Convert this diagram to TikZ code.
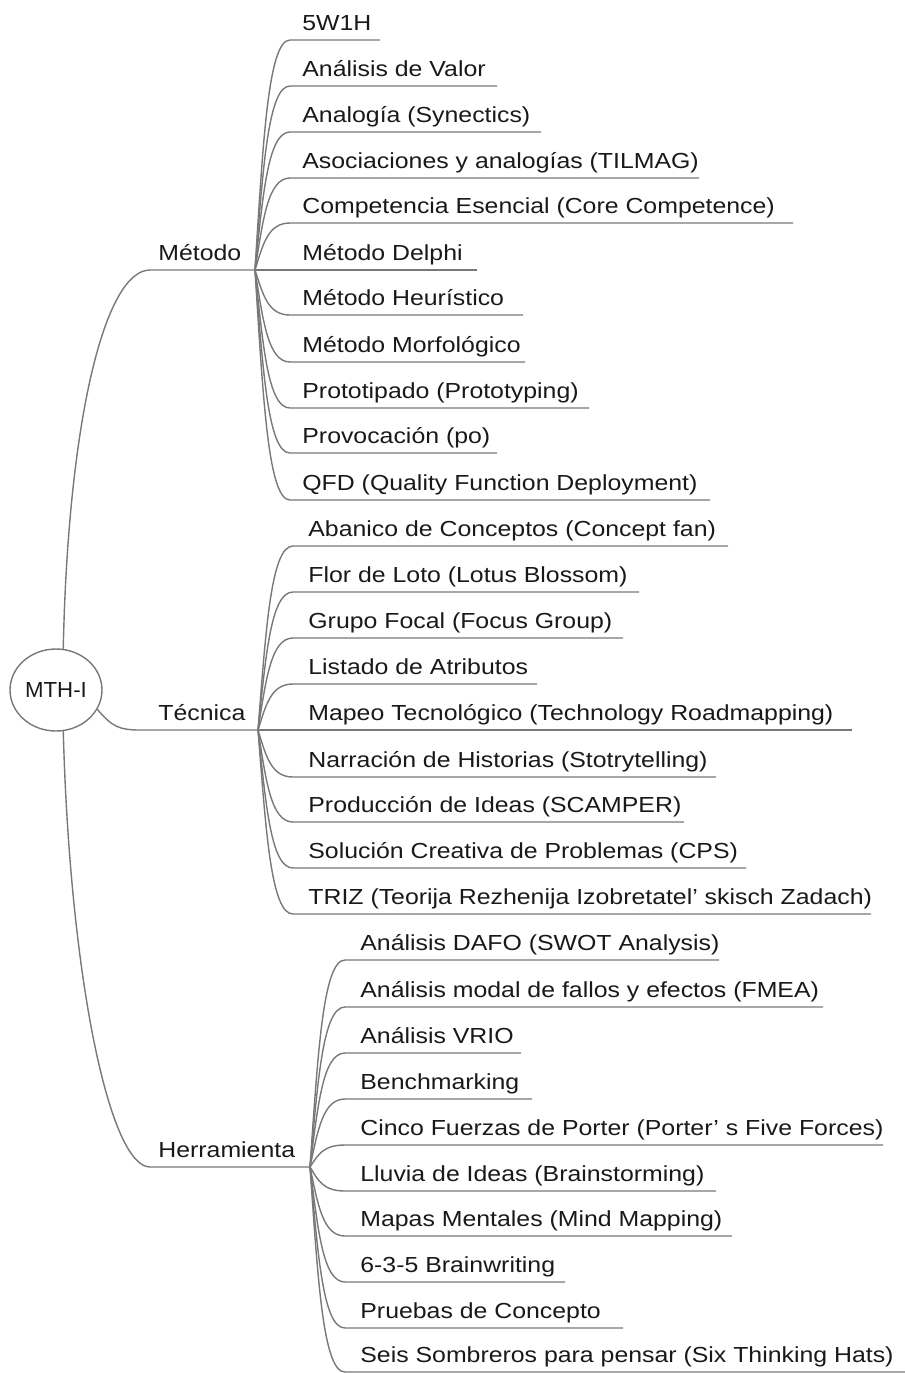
\documentclass[tikz,border=0pt]{standalone}
\usepackage{fontspec}
\setmainfont{Liberation Sans}
\usepackage{graphicx}
\usetikzlibrary{shapes.geometric,calc}
\definecolor{linegray}{RGB}{120,120,120}
\definecolor{txtgray}{RGB}{25,25,25}
\newcommand\lbl[1]{\scalebox{1.14}[1]{#1}}
\begin{document}
\begin{tikzpicture}[x=0.5pt,y=-0.5pt,
  conn/.style={draw=linegray,line width=0.7pt},
  leaf/.style={inner sep=0pt,anchor=base west,text=txtgray,font=\fontsize{10.9}{13}\selectfont},
  rootnode/.style={ellipse,draw=linegray,line width=0.7pt,minimum width=46pt,minimum height=41pt,inner sep=0pt,text=txtgray,font=\fontsize{10.9}{13}\selectfont}]
\useasboundingbox (0,0) rectangle (905,1373);

% root
\node[rootnode] (root) at (56,690) {\scalebox{1.02}[1]{MTH-I}};

% hubs
\coordinate (hm) at (255,270);
\coordinate (ht) at (258,730);
\coordinate (hh) at (310,1167);

% branch labels
\node[leaf] (metodo) at (158,260.5) {\lbl{Método}};
\node[leaf] (tecnica) at (158,720.5) {\lbl{Técnica}};
\node[leaf] (herr) at (158,1157.5) {\lbl{Herramienta}};

% root connectors
\draw[conn] (root.80) .. controls (68,420) and (105,270) .. (150,270) -- (hm);
\draw[conn] (root.-25) .. controls (112,727) and (120,730) .. (140,730) -- (ht);
\draw[conn] (root.-80) .. controls (70,980) and (110,1167) .. (150,1167) -- (hh);

% Método children
\foreach \yy/\ee/\lab [count=\i] in {
  40/380/5W1H,
  86/497/Análisis de Valor,
  132/541/Analogía (Synectics),
  178/699/Asociaciones y analogías (TILMAG),
  223/793/Competencia Esencial (Core Competence),
  270/477/Método Delphi,
  315/523/Método Heurístico,
  362/525/Método Morfológico,
  408/589/Prototipado (Prototyping),
  453/497/Provocación (po),
  500/710/QFD (Quality Function Deployment)}{
  \node[leaf] (m\i) at (302,{\yy-9.5}) {\lbl{\lab}};
  \coordinate (m\i e) at (\ee,\yy);
  \draw[conn] (hm) .. controls (263,{270+0.55*(\yy-270)}) and (268,\yy) .. (290,\yy) -- (m\i e);
}

% Técnica children
\foreach \yy/\ee/\lab [count=\i] in {
  546/728/Abanico de Conceptos (Concept fan),
  592/639/Flor de Loto (Lotus Blossom),
  638/623/Grupo Focal (Focus Group),
  684/537/Listado de Atributos,
  730/852/Mapeo Tecnológico (Technology Roadmapping),
  777/716/Narración de Historias (Stotrytelling),
  822/684/Producción de Ideas (SCAMPER),
  868/746/Solución Creativa de Problemas (CPS),
  914/871/TRIZ (Teorija Rezhenija Izobretatel’ skisch Zadach)}{
  \node[leaf] (t\i) at (308,{\yy-9.5}) {\lbl{\lab}};
  \coordinate (t\i e) at (\ee,\yy);
  \draw[conn] (ht) .. controls (266,{730+0.55*(\yy-730)}) and (271,\yy) .. (293,\yy) -- (t\i e);
}

% Herramienta children
\foreach \yy/\ee/\lab [count=\i] in {
  960/719/Análisis DAFO (SWOT Analysis),
  1007/823/Análisis modal de fallos y efectos (FMEA),
  1053/521/Análisis VRIO,
  1099/532/Benchmarking,
  1145/883/Cinco Fuerzas de Porter (Porter’ s Five Forces),
  1191/716/Lluvia de Ideas (Brainstorming),
  1236/732/Mapas Mentales (Mind Mapping),
  1282/565/6-3-5 Brainwriting,
  1328/623/Pruebas de Concepto,
  1372/905/Seis Sombreros para pensar (Six Thinking Hats)}{
  \node[leaf] (h\i) at (360,{\yy-9.5}) {\lbl{\lab}};
  \coordinate (h\i e) at (\ee,\yy);
  \draw[conn] (hh) .. controls (318,{1167+0.55*(\yy-1167)}) and (323,\yy) .. (345,\yy) -- (h\i e);
}
\end{tikzpicture}
\end{document}
